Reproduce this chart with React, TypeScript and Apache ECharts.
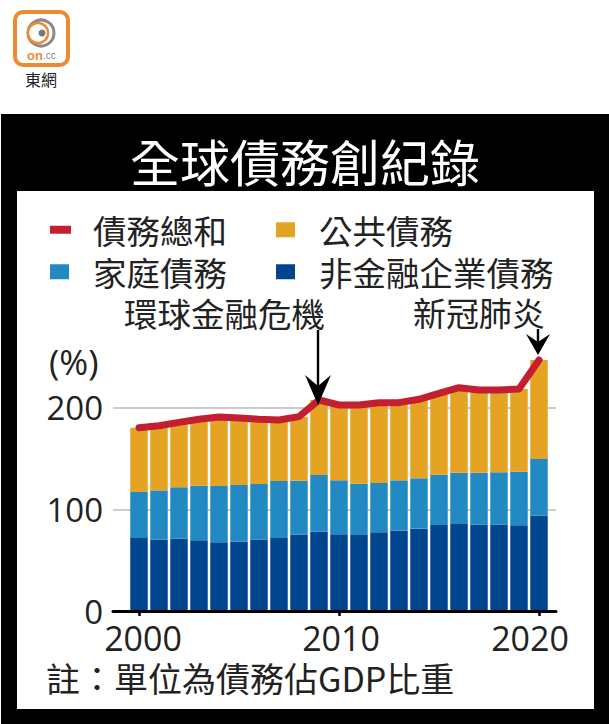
import React, { useEffect, useRef } from "react";
import * as echarts from "echarts";

const years = ["2000","2001","2002","2003","2004","2005","2006","2007","2008","2009","2010","2011","2012","2013","2014","2015","2016","2017","2018","2019","2020"];
const totalDebt = [180.5,182.5,185.8,188.8,191,190.1,188.8,188.1,191.4,207.8,202.9,202.9,205.2,205.2,208.5,214.4,219.9,217.7,217.7,218.6,247.2];
const publicDebt = [63.3,63.7,64,65.4,67.9,66,63.7,60.1,63.1,73.9,74.2,77.5,79.1,76.5,77.8,80.1,83.7,81.5,81.1,81.4,97.5];
const householdDebt = [45.3,48.3,50.6,53.8,55.5,55.8,54.6,56.1,53.1,55.8,53.2,50.5,48.6,49.3,49.6,49.6,50.5,50.9,51.3,52.8,55.8];
const corporateDebt = [71.9,70.5,71.2,69.6,67.6,68.3,70.5,71.9,75.2,78.1,75.5,74.9,77.5,79.4,81.1,84.7,85.7,85.3,85.3,84.4,93.9];
const yTicks = [0, 100, 200];
const xTicks = [2000, 2010, 2020];

const CJK = '"Noto Sans CJK TC","Noto Sans",sans-serif';
const LATIN = '"Open Sans","Noto Sans",sans-serif';
const INK = "#222222";
const RED = "#c41f30";
const ORANGE = "#e5a323";
const BLUE = "#2389c2";
const NAVY = "#00468f";

const bar = (name: string, vals: number[], color: string) => ({
  name,
  type: "bar",
  stack: "debt",
  xAxisIndex: 1,
  yAxisIndex: 1,
  barWidth: 17.5,
  data: vals,
  itemStyle: { color },
});

const legendItem = (name: string, left: number, top: number, w: number, h: number, gap: number) => ({
  data: [{ name, icon: "rect" }],
  left,
  top,
  padding: 0,
  orient: "horizontal",
  selectedMode: false,
  itemWidth: w,
  itemHeight: h,
  textStyle: { fontFamily: CJK, fontSize: 33.5, lineHeight: 33, color: INK, padding: [0, 0, 0, gap] },
});

const label = (text: string, x: number, y: number, fontSize = 33, fontFamily = CJK) => ({
  type: "text",
  z: 10,
  style: { text, x, y, fill: INK, font: `${fontSize}px ${fontFamily}`, lineHeight: fontSize, verticalAlign: "middle" },
});

const arrow = (x: number, y1: number, headTop: number, notch: number, tip: number, hw: number) => [
  { type: "line", z: 10, shape: { x1: x, y1, x2: x, y2: notch }, style: { stroke: "#000", lineWidth: 2.4 } },
  {
    type: "polygon",
    z: 10,
    shape: { points: [[x - hw, headTop], [x, notch], [x + hw, headTop], [x, tip]] },
    style: { fill: "#000" },
  },
];

export default function App() {
  const ref = useRef<HTMLDivElement>(null);
  useEffect(() => {
    if (!ref.current) return;
    const chart = echarts.init(ref.current, undefined, { renderer: "svg" });
    chart.setOption({
      animation: false,
      backgroundColor: "#ffffff",
      legend: [
        legendItem("債務總和", 50, 213, 21, 8, 17),
        legendItem("公共債務", 276, 213, 19, 15, 19),
        legendItem("家庭債務", 50, 255, 19, 15, 19),
        legendItem("非金融企業債務", 276, 255, 19, 15, 19),
      ],
      grid: [
        { left: 113, right: 53, top: 306.4, height: 304.6 },
        { left: 129, right: 60, top: 306.4, height: 304.6 },
      ],
      xAxis: [
        {
          type: "value",
          gridIndex: 0,
          z: 5,
          min: 1998.7,
          max: 2020.85,
          splitLine: { show: false },
          axisLine: { show: true, onZero: false, lineStyle: { color: "#000", width: 3 } },
          axisTick: { show: true, customValues: xTicks, length: 5, lineStyle: { color: "#000", width: 2.5 } },
          axisLabel: {
            customValues: xTicks,
            margin: 11,
            color: INK,
            formatter: (v: number) => `{y${v}|${v}}`,
            rich: {
              y2000: { fontFamily: LATIN, fontSize: 34, lineHeight: 32, color: INK, padding: [0, 0, 0, 8] },
              y2010: { fontFamily: LATIN, fontSize: 34, lineHeight: 32, color: INK, padding: [0, 0, 0, 4] },
              y2020: { fontFamily: LATIN, fontSize: 34, lineHeight: 32, color: INK, padding: [0, 18, 0, 0] },
            },
          },
        },
        {
          type: "category",
          gridIndex: 1,
          data: years,
          axisLine: { show: false },
          axisTick: { show: false },
          axisLabel: { show: false },
          splitLine: { show: false },
        },
      ],
      yAxis: [
        {
          type: "value",
          gridIndex: 0,
          min: 0,
          max: 300,
          interval: 100,
          axisLine: { show: false },
          axisTick: { show: false },
          axisLabel: {
            customValues: yTicks,
            margin: 10,
            color: INK,
            fontFamily: LATIN,
            fontSize: 33,
            lineHeight: 33,
          },
          splitLine: { show: true, showMinLine: false, showMaxLine: false, lineStyle: { color: "#bdbdbd", width: 1.5 } },
        },
        {
          type: "value",
          gridIndex: 1,
          min: 0,
          max: 300,
          interval: 100,
          axisLine: { show: false },
          axisTick: { show: false },
          axisLabel: { show: false },
          splitLine: { show: false },
        },
      ],
      series: [
        bar("非金融企業債務", corporateDebt, NAVY),
        bar("家庭債務", householdDebt, BLUE),
        bar("公共債務", publicDebt, ORANGE),
        {
          name: "債務總和",
          type: "line",
          xAxisIndex: 1,
          yAxisIndex: 1,
          z: 5,
          data: totalDebt,
          showSymbol: false,
          itemStyle: { color: RED },
          lineStyle: { color: RED, width: 7, cap: "round", join: "round" },
        },
      ],
      graphic: {
        elements: [
          { type: "rect", z: -2, shape: { x: 1, y: 114, width: 608, height: 610 }, style: { fill: "#000" } },
          { type: "rect", z: -1, shape: { x: 17, y: 191, width: 577, height: 518 }, style: { fill: "#fff" } },
          {
            type: "text",
            z: 10,
            style: { text: "全球債務創紀錄", x: 305, y: 160, fill: "#fff", font: `50px ${CJK}`, align: "center", verticalAlign: "middle" },
          },
          label("環球金融危機", 124, 312, 33.5),
          label("新冠肺炎", 413, 312),
          label("(%)", 49, 361, 35, LATIN),
          label("註：單位為債務佔GDP比重", 46, 677, 34),
          ...arrow(318, 330, 375, 386, 405, 13),
          ...arrow(538, 329, 334, 342, 355, 12),
          // logo
          { type: "rect", z: 10, shape: { x: 15, y: 12, width: 53, height: 53, r: 8 }, style: { fill: "#fff", stroke: "#ee8a32", lineWidth: 4 } },
          { type: "circle", z: 10, shape: { cx: 41, cy: 33, r: 13 }, style: { fill: "none", stroke: "#8a8a8a", lineWidth: 3 } },
          { type: "circle", z: 10, shape: { cx: 38, cy: 33, r: 10 }, style: { fill: "#fff", stroke: "#ee8a32", lineWidth: 2.5 } },
          { type: "circle", z: 10, shape: { cx: 42, cy: 33, r: 3.5 }, style: { fill: "#777" } },
          {
            type: "text",
            z: 10,
            style: {
              text: "{a|on}{b|.cc}",
              x: 27,
              y: 55,
              verticalAlign: "middle",
              rich: {
                a: { fill: "#ee8a32", font: `bold 13px "Liberation Sans",sans-serif` },
                b: { fill: "#888", font: `10px "Liberation Sans",sans-serif` },
              },
            },
          },
          { type: "text", z: 10, style: { text: "東網", x: 41, y: 79, fill: INK, font: `16px ${CJK}`, lineHeight: 16, align: "center", verticalAlign: "middle" } },
        ],
      },
    });
    return () => chart.dispose();
  }, []);
  return <div ref={ref} style={{ position: "absolute", left: 0, top: 0, width: 609, height: 724 }} />;
}
